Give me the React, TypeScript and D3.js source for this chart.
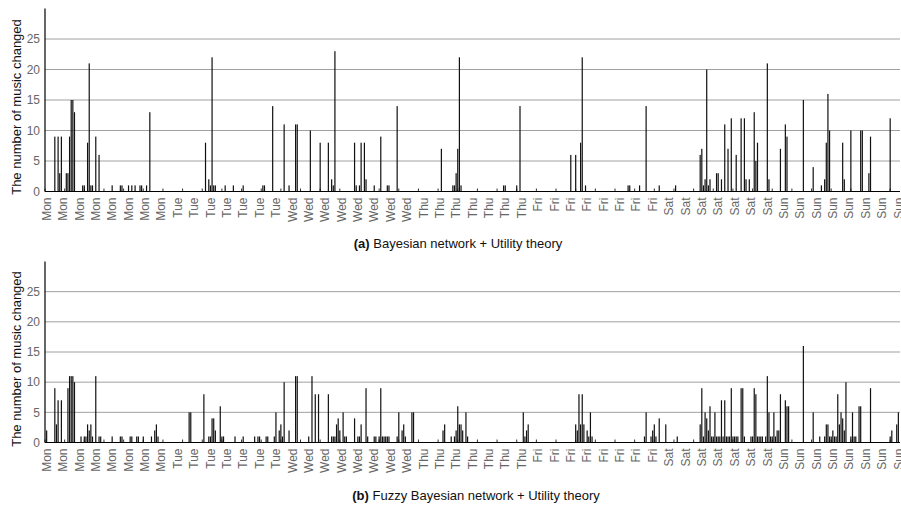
import * as d3 from "d3";

// time slots along the week; a day label every 10 slots, an inside tick every 12
const dayNames = ["Mon", "Tue", "Wed", "Thu", "Fri", "Sat", "Sun"];
const labelsPerDay = [8, 7, 8, 7, 8, 7, 8];
const slotCount = 522;
const labelEvery = 10;
const tickEvery = 12;
const yTicks = [0, 5, 10, 15, 20, 25];
const yMax = 30;

// [slot, number of music changed]
const barsA: [number, number][] = [
  [6, 9], [8, 9], [9, 3], [10, 9], [13, 3], [14, 3], [15, 9], [16, 15], [17, 15], [18, 13],
  [23, 1], [24, 1], [26, 8], [27, 21], [28, 1], [29, 1], [31, 9], [33, 6], [41, 1], [46, 1],
  [47, 1], [51, 1], [53, 1], [55, 1], [58, 1], [59, 1], [62, 1], [64, 13], [98, 8], [100, 2],
  [101, 1], [102, 22], [103, 1], [104, 1], [110, 1], [115, 1], [121, 1], [133, 1], [134, 1],
  [139, 14], [146, 11], [149, 1], [153, 11], [154, 11], [162, 10], [168, 8], [173, 8], [175, 2],
  [176, 1], [177, 23], [189, 8], [190, 1], [192, 1], [193, 8], [195, 8], [196, 2], [201, 1],
  [205, 9], [209, 1], [210, 1], [215, 14], [242, 7], [249, 1], [250, 1], [251, 3], [252, 7],
  [253, 22], [254, 1], [280, 1], [281, 1], [288, 1], [290, 14], [321, 6], [324, 6], [327, 8],
  [328, 22], [330, 1], [356, 1], [357, 1], [363, 1], [367, 14], [375, 1], [385, 1], [400, 6],
  [401, 7], [402, 1], [403, 2], [404, 20], [405, 1], [406, 2], [410, 3], [411, 3], [413, 2],
  [415, 11], [417, 7], [419, 12], [422, 6], [425, 12], [427, 12], [428, 2], [430, 2], [433, 13],
  [434, 5], [435, 8], [441, 21], [442, 2], [449, 7], [452, 11], [453, 9], [463, 15], [469, 4],
  [474, 1], [476, 2], [477, 8], [478, 16], [479, 10], [487, 8], [488, 2], [492, 10], [498, 10],
  [499, 10], [503, 3], [504, 9], [516, 12],
];

const barsB: [number, number][] = [
  [1, 2], [6, 9], [7, 3], [8, 7], [10, 7], [14, 9], [15, 11], [16, 11], [17, 11], [18, 10],
  [22, 1], [24, 1], [25, 1], [26, 3], [27, 2], [28, 3], [29, 1], [31, 11], [33, 1], [34, 1],
  [41, 1], [46, 1], [47, 1], [52, 1], [53, 1], [56, 1], [57, 1], [60, 1], [65, 1], [67, 2],
  [68, 3], [69, 1], [88, 5], [89, 5], [97, 8], [100, 1], [101, 1], [102, 4], [103, 4], [104, 2],
  [107, 6], [108, 1], [109, 1], [116, 1], [121, 1], [128, 1], [130, 1], [131, 1], [135, 1],
  [136, 1], [140, 1], [141, 5], [143, 2], [144, 3], [145, 1], [146, 10], [149, 2], [153, 11],
  [154, 11], [161, 1], [163, 11], [165, 8], [167, 8], [173, 8], [175, 1], [176, 1], [177, 1],
  [178, 3], [179, 4], [180, 2], [182, 5], [183, 1], [184, 1], [189, 4], [191, 1], [192, 1],
  [193, 3], [196, 9], [197, 1], [201, 1], [202, 1], [204, 1], [205, 9], [206, 1], [207, 1],
  [208, 1], [209, 1], [210, 1], [215, 1], [216, 5], [218, 2], [219, 3], [220, 1], [224, 5],
  [225, 5], [243, 2], [244, 3], [248, 1], [250, 1], [251, 2], [252, 6], [253, 3], [254, 3],
  [255, 2], [257, 5], [258, 1], [292, 5], [293, 1], [294, 2], [295, 3], [324, 3], [325, 2],
  [326, 8], [327, 3], [328, 8], [329, 3], [331, 2], [332, 1], [333, 5], [334, 1], [366, 1],
  [367, 5], [370, 1], [371, 2], [372, 3], [373, 1], [375, 4], [379, 3], [386, 1], [400, 3],
  [401, 9], [402, 1], [403, 5], [404, 4], [405, 2], [406, 6], [407, 1], [408, 1], [409, 5],
  [410, 1], [411, 1], [412, 1], [413, 7], [414, 1], [415, 7], [416, 1], [417, 1], [418, 1],
  [419, 9], [420, 1], [421, 1], [422, 1], [423, 1], [425, 9], [426, 9], [427, 1], [431, 1],
  [432, 1], [433, 9], [434, 8], [435, 1], [436, 1], [437, 1], [438, 1], [440, 1], [441, 11],
  [442, 5], [443, 1], [444, 1], [445, 5], [446, 1], [447, 2], [448, 2], [449, 8], [452, 7],
  [453, 6], [454, 6], [463, 16], [469, 5], [473, 1], [476, 1], [477, 3], [478, 3], [479, 1],
  [480, 1], [481, 2], [482, 1], [483, 1], [484, 8], [485, 3], [486, 5], [487, 4], [488, 2],
  [489, 10], [492, 1], [493, 5], [494, 1], [495, 1], [497, 6], [498, 6], [504, 9], [516, 1],
  [517, 2], [520, 3], [521, 5],
];

const font = "'Liberation Sans', Arial, sans-serif";

const dayLabels = dayNames.flatMap((d, i) => Array(labelsPerDay[i]).fill(d) as string[]);

function Panel({
  bars,
  top,
  bottom,
  tag,
  caption,
  captionX,
  captionY,
}: {
  bars: [number, number][];
  top: number;
  bottom: number;
  tag: string;
  caption: string;
  captionX: number;
  captionY: number;
}) {
  const x = d3.scaleLinear().domain([0, slotCount]).range([45, 900]);
  const y = d3.scaleLinear().domain([0, yMax]).range([bottom, top]);
  const barW = 1.2;

  return (
    <g>
      {/* grid */}
      {yTicks.slice(1).map((t) => (
        <line key={t} x1={45} x2={900} y1={y(t)} y2={y(t)} stroke="#a0a0a0" strokeWidth={1} />
      ))}
      {/* inside ticks */}
      {d3.range(0, slotCount, tickEvery).map((s) => (
        <line key={s} x1={x(s)} x2={x(s)} y1={y(0)} y2={y(0) - 3} stroke="#333" strokeWidth={1} />
      ))}
      {/* bars */}
      {bars.map(([s, v]) => (
        <rect key={s} x={x(s) - barW / 2} y={y(v)} width={barW} height={y(0) - y(v)} fill="#111" />
      ))}
      {/* axes */}
      <line x1={45} x2={45} y1={top} y2={bottom} stroke="#000" strokeWidth={1.2} />
      <line x1={45} x2={900} y1={bottom} y2={bottom} stroke="#000" strokeWidth={1.2} />
      {yTicks.map((t) => (
        <text key={t} x={40} y={y(t)} dy="0.35em" textAnchor="end" fontSize={12} fill="#666">
          {t}
        </text>
      ))}
      {dayLabels.map((d, i) => {
        const lx = x(1 + i * labelEvery);
        const ly = bottom + 6;
        return (
          <text
            key={i}
            transform={`translate(${lx},${ly}) rotate(-90)`}
            textAnchor="end"
            dy="0.35em"
            fontSize={12}
            fill="#666"
          >
            {d}
          </text>
        );
      })}
      <text
        transform={`translate(16,${(top + bottom) / 2 + 7}) rotate(-90)`}
        textAnchor="middle"
        dy="0.35em"
        fontSize={13}
        fill="#111"
      >
        The number of music changed
      </text>
      <text x={captionX} y={captionY} textAnchor="middle" fontSize={13} fill="#111">
        <tspan fontWeight="bold">{tag}</tspan> {caption}
      </text>
    </g>
  );
}

export default function App() {
  return (
    <svg
      width={901}
      height={507}
      style={{ position: "absolute", left: 0, top: 0, background: "#fff" }}
      fontFamily={font}
    >
      <rect width={901} height={507} fill="#fff" />
      <Panel
        bars={barsA}
        top={8.5}
        bottom={191.5}
        tag="(a)"
        caption="Bayesian network + Utility theory"
        captionX={458}
        captionY={248}
      />
      <Panel
        bars={barsB}
        top={261.5}
        bottom={442.5}
        tag="(b)"
        caption="Fuzzy Bayesian network + Utility theory"
        captionX={476}
        captionY={500}
      />
    </svg>
  );
}
